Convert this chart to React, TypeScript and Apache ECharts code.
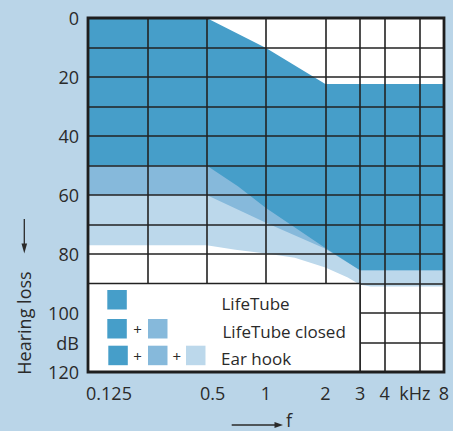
import React, { useEffect, useRef } from "react";
import * as echarts from "echarts";

// ---- axis ticks / labels ----
const xGridFreqs = [0.125, 0.25, 0.5, 1, 2, 3, 4, 6, 8];
const xLabelFreqs = [0.125, 0.5, 1, 2, 3, 4, 6, 8];
const xLabelTexts = ["0.125", "0.5", "1", "2", "3", "4", "kHz", "8"];
const yLabelValues = [0, 20, 40, 60, 80, 100, 110, 120];
const yLabelTexts = ["0", "20", "40", "60", "80", "100", "dB", "120"];

// ---- region boundaries (frequency kHz, hearing loss dB) ----
const openTopFreq = [0.125, 0.5, 1, 2, 8];
const openTopLoss = [0, 0, 10.2, 22.4, 22.4];

const lifeTubeFreq = [0.125, 0.5, 0.72, 1, 2, 3, 8];
const lifeTubeLoss = [50, 50, 57, 64.4, 78, 85.5, 85.5];

const closedFreq = [0.125, 0.5, 1, 2, 3, 8];
const closedLoss = [60, 60, 69.4, 78.2, 85.5, 85.5];

const earHookFreq = [0.125, 0.5, 0.7, 1, 1.4, 2, 2.6, 3, 3.4, 8];
const earHookLoss = [77, 77, 78.6, 79.8, 81.3, 84.6, 88, 90.4, 91, 91];

// legend box extent (data space)
const legendBoxFreq = [0.125, 3];
const legendBoxLoss = [90, 120];

const legendNames = ["LifeTube", "LifeTube closed", "Ear hook"];

const DARK = "#469ec9";
const MEDIUM = "#86b9db";
const LIGHT = "#bcd8eb";
const BG = "#bad5e8";
const INK = "#2a2a2a";
const GRIDLINE = "#222222";
const FONT = "Open Sans";

function nearestIdx(arr: number[], v: number) {
  let best = 0;
  for (let i = 1; i < arr.length; i++) {
    if (Math.abs(arr[i] - v) < Math.abs(arr[best] - v)) best = i;
  }
  return best;
}

function areaSeries(name: string, fr: number[], loss: number[], color: string) {
  return {
    type: "line",
    name,
    data: fr.map((f, i) => [f, loss[i]]),
    showSymbol: false,
    symbol: "none",
    silent: true,
    lineStyle: { width: 0 },
    areaStyle: { color, opacity: 1, origin: "start" },
    z: 2,
  };
}

export default function App() {
  const ref = useRef<HTMLDivElement>(null);
  useEffect(() => {
    document.body.style.margin = "0";
    const chart = echarts.init(ref.current!, null, { renderer: "svg" });

    const sw = 19.5;
    const legendGraphics: any[] = [];
    const swatch = (x: number, y: number, c: string) =>
      legendGraphics.push({ type: "rect", shape: { x, y, width: sw, height: sw }, style: { fill: c }, z: 30 });
    const plus = (x: number, y: number) =>
      legendGraphics.push({
        type: "text",
        x,
        y,
        style: { text: "+", fontSize: 15, fontFamily: FONT, fill: INK, align: "center", verticalAlign: "middle" },
        z: 30,
      });
    swatch(107.3, 290, DARK);
    swatch(107.3, 319, DARK);
    plus(137.5, 328.5);
    swatch(148, 319, MEDIUM);
    swatch(108.3, 345.7, DARK);
    plus(137.5, 355.5);
    swatch(148, 345.7, MEDIUM);
    plus(176.7, 355.5);
    swatch(186, 345.7, LIGHT);
    const textYs = [303, 331.5, 358.8];
    const textXs = [221.5, 222.5, 221];
    legendNames.forEach((n, i) =>
      legendGraphics.push({
        type: "text",
        x: textXs[i],
        y: textYs[i],
        style: { text: n, fontSize: 17, fontFamily: FONT, fill: INK, align: "left", verticalAlign: "middle" },
        z: 30,
      })
    );

    const option: any = {
      animation: false,
      backgroundColor: BG,
      grid: {
        left: 88,
        right: 9,
        top: 18,
        bottom: 59,
        show: true,
        backgroundColor: "#ffffff",
        borderWidth: 0,
        outerBoundsMode: "none",
        containLabel: false,
      },
      xAxis: {
        type: "log",
        logBase: 2,
        min: 0.125,
        max: 8,
        z: 5,
        axisLine: { show: false },
        axisTick: { show: false, customValues: xGridFreqs },
        splitLine: { show: true, lineStyle: { color: GRIDLINE, width: 1.6 } },
        axisLabel: {
          customValues: xLabelFreqs,
          showMinLabel: true,
          showMaxLabel: true,
          margin: 12,
          color: INK,
          fontSize: 18,
          fontFamily: FONT,
          formatter: (v: number) => {
            const i = nearestIdx(xLabelFreqs, v);
            const t = xLabelTexts[i];
            if (i === 0) return "{first|" + t + "}";
            if (i === 1) return "{half|" + t + "}";
            if (t === "kHz") return "{khz|" + t + "}";
            return t;
          },
          rich: {
            first: { padding: [0, 0, 0, 42], fontSize: 18, fontFamily: FONT, color: INK },
            half: { padding: [0, 0, 0, 12], fontSize: 18, fontFamily: FONT, color: INK },
            khz: { padding: [0, 9, 0, 0], fontSize: 18, fontFamily: FONT, color: INK },
          },
        },
      },
      yAxis: {
        type: "value",
        inverse: true,
        min: 0,
        max: 120,
        interval: 10,
        z: 5,
        axisLine: { show: false },
        axisTick: { show: false },
        splitLine: { show: true, lineStyle: { color: GRIDLINE, width: 1.6 } },
        axisLabel: {
          margin: 9,
          color: INK,
          fontSize: 18,
          fontFamily: FONT,
          showMinLabel: true,
          showMaxLabel: true,
          formatter: (v: number) => {
            const i = yLabelValues.indexOf(Math.round(v));
            return i >= 0 ? yLabelTexts[i] : "";
          },
        },
      },
      series: [
        areaSeries("Ear hook", earHookFreq, earHookLoss, LIGHT),
        areaSeries("LifeTube closed", closedFreq, closedLoss, MEDIUM),
        areaSeries("LifeTube", lifeTubeFreq, lifeTubeLoss, DARK),
        areaSeries("open", openTopFreq, openTopLoss, "#ffffff"),
        {
          type: "custom",
          name: "legendBox",
          silent: true,
          z: 8,
          data: [[legendBoxFreq[0], legendBoxLoss[0]]],
          renderItem: (_p: any, api: any) => {
            const a = api.coord([legendBoxFreq[0], legendBoxLoss[0]]);
            const b = api.coord([legendBoxFreq[1], legendBoxLoss[1]]);
            return {
              type: "group",
              children: [
                {
                  type: "rect",
                  shape: { x: a[0], y: a[1], width: b[0] - a[0], height: b[1] - a[1] },
                  style: { fill: "#ffffff" },
                },
                {
                  type: "polyline",
                  shape: { points: [[a[0], a[1]], [b[0], a[1]], [b[0], b[1]]] },
                  style: { stroke: GRIDLINE, lineWidth: 1.6, fill: null },
                },
              ],
            };
          },
        },
        {
          type: "custom",
          name: "frame",
          silent: true,
          z: 20,
          data: [[xGridFreqs[0], 0]],
          renderItem: (_p: any, api: any) => {
            const a = api.coord([xGridFreqs[0], 0]);
            const b = api.coord([xGridFreqs[xGridFreqs.length - 1], 120]);
            return {
              type: "rect",
              shape: { x: a[0], y: a[1], width: b[0] - a[0], height: b[1] - a[1] },
              style: { stroke: "#1e1e1e", lineWidth: 2.8, fill: null },
            };
          },
        },
      ],
      graphic: [
        ...legendGraphics,
        {
          type: "text",
          x: 24,
          y: 323,
          rotation: Math.PI / 2,
          style: { text: "Hearing loss", fontSize: 18, fontFamily: FONT, fill: INK, align: "center", verticalAlign: "middle" },
          z: 30,
        },
        {
          type: "line",
          shape: { x1: 24.3, y1: 219, x2: 24.3, y2: 245 },
          style: { stroke: INK, lineWidth: 1.3 },
          z: 30,
        },
        {
          type: "polygon",
          shape: { points: [[21.5, 243.5], [27.1, 243.5], [24.3, 253.5]] },
          style: { fill: INK },
          z: 30,
        },
        {
          type: "line",
          shape: { x1: 231.7, y1: 425, x2: 276, y2: 425 },
          style: { stroke: INK, lineWidth: 1.3 },
          z: 30,
        },
        {
          type: "polygon",
          shape: { points: [[274.5, 422.1], [274.5, 427.9], [283, 425]] },
          style: { fill: INK },
          z: 30,
        },
        {
          type: "text",
          x: 286,
          y: 420,
          style: { text: "f", fontSize: 18, fontFamily: FONT, fill: INK, align: "left", verticalAlign: "middle" },
          z: 30,
        },
      ],
    };

    chart.setOption(option);
    return () => chart.dispose();
  }, []);

  return <div ref={ref} style={{ position: "fixed", left: 0, top: 0, width: 453, height: 431 }} />;
}
